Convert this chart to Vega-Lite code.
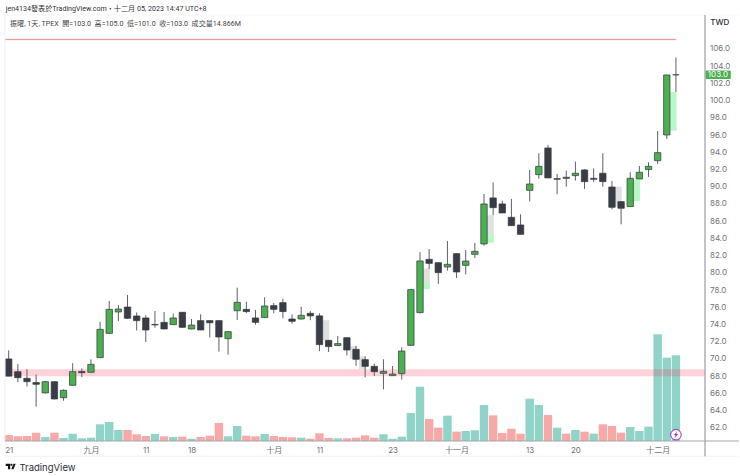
{
  "$schema": "https://vega.github.io/schema/vega-lite/v6.json",
  "width": 700,
  "height": 409,
  "autosize": "none",
  "padding": {"left": 5, "top": 32, "right": 35, "bottom": 35},
  "background": "white",
  "view": {"stroke": null},
  "config": {"font": "Inter, Noto Sans CJK TC, sans-serif"},
  "datasets": {
    "bars": [
      {"i":0,"open":70,"high":71,"low":68,"close":68,"vol":1.04,"dir":"down","volDir":"volDown"},
      {"i":1,"open":68.52,"high":69.4,"low":67.3,"close":67.83,"vol":0.81,"dir":"down","volDir":"volDown"},
      {"i":2,"open":67.75,"high":68.8,"low":66.8,"close":67.36,"vol":0.87,"dir":"down","volDir":"volDown"},
      {"i":3,"open":67.25,"high":68.2,"low":64.46,"close":67.05,"vol":1.45,"dir":"down","volDir":"volDown"},
      {"i":4,"open":66.05,"high":67.45,"low":66,"close":67.36,"vol":0.69,"dir":"up","volDir":"volUp"},
      {"i":5,"open":67.36,"high":67.4,"low":65.3,"close":65.35,"vol":1.45,"dir":"down","volDir":"volDown"},
      {"i":6,"open":65.5,"high":66.45,"low":65.15,"close":66.36,"vol":0.52,"dir":"up","volDir":"volUp"},
      {"i":7,"open":66.94,"high":69.5,"low":66.9,"close":68.52,"vol":1.27,"dir":"up","volDir":"volUp"},
      {"i":8,"open":68.55,"high":68.9,"low":67.9,"close":68.4,"vol":0.46,"dir":"down","volDir":"volUp"},
      {"i":9,"open":68.45,"high":69.95,"low":68.4,"close":69.37,"vol":0.58,"dir":"up","volDir":"volUp"},
      {"i":10,"open":70.15,"high":74.3,"low":70.1,"close":73.44,"vol":2.89,"dir":"up","volDir":"volUp"},
      {"i":11,"open":72.97,"high":76.73,"low":72.9,"close":75.76,"vol":3.29,"dir":"up","volDir":"volUp"},
      {"i":12,"open":75.45,"high":76.27,"low":74.4,"close":75.8,"vol":1.91,"dir":"up","volDir":"volUp"},
      {"i":13,"open":76.03,"high":77.43,"low":74.64,"close":74.72,"vol":1.91,"dir":"down","volDir":"volDown"},
      {"i":14,"open":74.99,"high":75.4,"low":73.3,"close":74.45,"vol":1.16,"dir":"down","volDir":"volDown"},
      {"i":15,"open":74.76,"high":75.07,"low":71.97,"close":73.36,"vol":0.87,"dir":"down","volDir":"volDown"},
      {"i":16,"open":74,"high":75.57,"low":73.63,"close":73.95,"vol":1.21,"dir":"flat","volDir":"volUp"},
      {"i":17,"open":74.25,"high":75.45,"low":73.45,"close":73.48,"vol":0.81,"dir":"down","volDir":"volDown"},
      {"i":18,"open":73.98,"high":75.26,"low":73.95,"close":74.76,"vol":0.69,"dir":"up","volDir":"volUp"},
      {"i":19,"open":75.42,"high":75.45,"low":73.6,"close":73.67,"vol":0.75,"dir":"down","volDir":"volDown"},
      {"i":20,"open":73.48,"high":74.64,"low":73.45,"close":73.94,"vol":0.4,"dir":"up","volDir":"volUp"},
      {"i":21,"open":74.45,"high":75.18,"low":73.35,"close":73.36,"vol":0.69,"dir":"down","volDir":"volDown"},
      {"i":22,"open":74.45,"high":74.5,"low":72.5,"close":74.2,"vol":0.92,"dir":"down","volDir":"volDown"},
      {"i":23,"open":74.45,"high":74.5,"low":70.85,"close":72.55,"vol":3.12,"dir":"down","volDir":"volDown"},
      {"i":24,"open":72.36,"high":73.25,"low":70.5,"close":73.17,"vol":0.81,"dir":"up","volDir":"volUp"},
      {"i":25,"open":75.6,"high":78.28,"low":74.53,"close":76.58,"vol":2.6,"dir":"up","volDir":"volUp"},
      {"i":26,"open":75.76,"high":76.65,"low":75.3,"close":75.5,"vol":0.92,"dir":"down","volDir":"volDown"},
      {"i":27,"open":74.76,"high":75.7,"low":73.98,"close":74.25,"vol":0.81,"dir":"down","volDir":"volDown"},
      {"i":28,"open":74.8,"high":77.16,"low":74.75,"close":76.15,"vol":1.21,"dir":"up","volDir":"volUp"},
      {"i":29,"open":76.19,"high":76.5,"low":75.3,"close":75.76,"vol":0.87,"dir":"down","volDir":"volDown"},
      {"i":30,"open":76.54,"high":77,"low":74.72,"close":75.5,"vol":0.69,"dir":"down","volDir":"volDown"},
      {"i":31,"open":74.64,"high":75.18,"low":74.1,"close":74.37,"vol":0.64,"dir":"down","volDir":"volDown"},
      {"i":32,"open":74.64,"high":76.07,"low":74.56,"close":75.07,"vol":0.58,"dir":"up","volDir":"volUp"},
      {"i":33,"open":75.3,"high":75.57,"low":74.5,"close":75,"vol":0.4,"dir":"down","volDir":"volDown"},
      {"i":34,"open":75,"high":75.3,"low":70.9,"close":71.66,"vol":1.33,"dir":"down","volDir":"volDown"},
      {"i":35,"open":72.16,"high":72.2,"low":70.8,"close":71.43,"vol":0.52,"dir":"down","volDir":"volDown"},
      {"i":36,"open":71.55,"high":72.67,"low":71.5,"close":71.78,"vol":0.46,"dir":"up","volDir":"volUp"},
      {"i":37,"open":72.47,"high":72.5,"low":70.4,"close":71.04,"vol":0.46,"dir":"down","volDir":"volDown"},
      {"i":38,"open":71.12,"high":71.5,"low":69.2,"close":69.96,"vol":0.58,"dir":"down","volDir":"volDown"},
      {"i":39,"open":69.92,"high":70.3,"low":67.87,"close":69.14,"vol":0.98,"dir":"down","volDir":"volDown"},
      {"i":40,"open":69.14,"high":69.45,"low":68.02,"close":68.52,"vol":0.58,"dir":"down","volDir":"volDown"},
      {"i":41,"open":68.33,"high":69.96,"low":66.47,"close":68.56,"vol":1.16,"dir":"up","volDir":"volUp"},
      {"i":42,"open":68.06,"high":69.18,"low":68.05,"close":68.25,"vol":0.4,"dir":"up","volDir":"volUp"},
      {"i":43,"open":68.29,"high":71.35,"low":67.6,"close":70.92,"vol":0.75,"dir":"up","volDir":"volUp"},
      {"i":44,"open":71.58,"high":78.15,"low":71.5,"close":78.05,"vol":4.86,"dir":"up","volDir":"volUp"},
      {"i":45,"open":75.38,"high":82.4,"low":75.3,"close":81.38,"vol":9.42,"dir":"up","volDir":"volUp"},
      {"i":46,"open":81.57,"high":82.77,"low":80.45,"close":81.1,"vol":3.81,"dir":"down","volDir":"volDown"},
      {"i":47,"open":81.18,"high":81.2,"low":78.7,"close":80.02,"vol":2.31,"dir":"down","volDir":"volDown"},
      {"i":48,"open":80.68,"high":83.7,"low":80.25,"close":80.99,"vol":4.39,"dir":"up","volDir":"volUp"},
      {"i":49,"open":82.23,"high":82.27,"low":79.4,"close":80.1,"vol":1.62,"dir":"down","volDir":"volDown"},
      {"i":50,"open":80.87,"high":82.65,"low":79.83,"close":81.37,"vol":1.73,"dir":"up","volDir":"volUp"},
      {"i":51,"open":82.15,"high":83.47,"low":81.72,"close":82.5,"vol":1.85,"dir":"up","volDir":"volUp"},
      {"i":52,"open":83.35,"high":89.16,"low":83.15,"close":88,"vol":6.24,"dir":"up","volDir":"volUp"},
      {"i":53,"open":88.7,"high":90.5,"low":86.72,"close":87.57,"vol":4.45,"dir":"down","volDir":"volDown"},
      {"i":54,"open":88,"high":88.38,"low":86.95,"close":86.95,"vol":1.39,"dir":"down","volDir":"volDown"},
      {"i":55,"open":86.45,"high":88.58,"low":85.45,"close":85.48,"vol":2.14,"dir":"down","volDir":"volDown"},
      {"i":56,"open":85.56,"high":86.8,"low":84.45,"close":84.47,"vol":1.27,"dir":"down","volDir":"volDown"},
      {"i":57,"open":89.58,"high":91.95,"low":88.3,"close":90.32,"vol":7.34,"dir":"up","volDir":"volUp"},
      {"i":58,"open":91.4,"high":93.88,"low":90.94,"close":92.37,"vol":6.24,"dir":"up","volDir":"volUp"},
      {"i":59,"open":94.5,"high":94.85,"low":91,"close":91.02,"vol":4.51,"dir":"down","volDir":"volDown"},
      {"i":60,"open":90.94,"high":91.48,"low":89.12,"close":90.86,"vol":2.31,"dir":"flat","volDir":"volUp"},
      {"i":61,"open":91.1,"high":91.87,"low":90,"close":90.97,"vol":1.27,"dir":"flat","volDir":"volDown"},
      {"i":62,"open":91.29,"high":92.92,"low":90.71,"close":91.56,"vol":1.91,"dir":"up","volDir":"volUp"},
      {"i":63,"open":91.95,"high":92.03,"low":89.74,"close":90.59,"vol":1.62,"dir":"down","volDir":"volDown"},
      {"i":64,"open":90.98,"high":92.14,"low":90.52,"close":90.86,"vol":1.27,"dir":"flat","volDir":"volUp"},
      {"i":65,"open":91.56,"high":93.88,"low":90.01,"close":90.59,"vol":2.89,"dir":"down","volDir":"volDown"},
      {"i":66,"open":89.97,"high":90.67,"low":87.38,"close":87.61,"vol":2.6,"dir":"down","volDir":"volDown"},
      {"i":67,"open":88.27,"high":88.3,"low":85.64,"close":87.5,"vol":1.45,"dir":"down","volDir":"volDown"},
      {"i":68,"open":87.69,"high":91.68,"low":87.65,"close":90.98,"vol":2.43,"dir":"up","volDir":"volUp"},
      {"i":69,"open":90.9,"high":92.41,"low":90.9,"close":91.68,"vol":1.73,"dir":"up","volDir":"volUp"},
      {"i":70,"open":91.99,"high":92.84,"low":91.14,"close":92.37,"vol":2.49,"dir":"up","volDir":"volUp"},
      {"i":71,"open":93.03,"high":96.48,"low":92.65,"close":93.96,"vol":18.5,"dir":"up","volDir":"volUp"},
      {"i":72,"open":96.01,"high":103,"low":95.55,"close":102.98,"vol":14.45,"dir":"up","volDir":"volUp"},
      {"i":73,"open":103,"high":105,"low":101,"close":103,"vol":14.866,"dir":"flat","volDir":"volUp"}
    ],
    "ghosts": [
      {"i":34.7,"top":74.5,"bottom":72.2,"kind":"ghostDown"},
      {"i":37.7,"top":71.5,"bottom":70,"kind":"ghostDown"},
      {"i":38.7,"top":70.3,"bottom":68.8,"kind":"ghostDown"},
      {"i":45.7,"top":80.5,"bottom":78.8,"kind":"ghostDown"},
      {"i":45.7,"top":78.8,"bottom":78.1,"kind":"ghostUp"},
      {"i":52.7,"top":86.7,"bottom":84.5,"kind":"ghostDown"},
      {"i":52.7,"top":84.5,"bottom":83.5,"kind":"ghostUp"},
      {"i":66.7,"top":90,"bottom":87.7,"kind":"ghostDown"},
      {"i":68.7,"top":90.8,"bottom":88.35,"kind":"ghostUp"},
      {"i":72.7,"top":101,"bottom":96.5,"kind":"ghostUp"}
    ],
    "one": [{"note": "annotation"}]
  },
  "data": {"name": "bars"},
  "layer": [
    {
      "mark": {"type": "bar", "size": 8.4},
      "encoding": {
        "x": {
          "field": "i",
          "type": "quantitative",
          "scale": {"domain": [-0.405, 76.18], "nice": false, "zero": false, "padding": 0},
          "axis": {
            "values": [0, 9, 15, 20, 29, 34, 42, 49, 57, 62, 71],
            "labelExpr": "{'0':'21','9':'九月','15':'11','20':'18','29':'十月','34':'11','42':'23','49':'十一月','57':'13','62':'20','71':'十二月'}[datum.value]",
            "grid": false,
            "ticks": false,
            "domain": false,
            "tickCount": 30,
            "labelFontSize": 8,
            "labelColor": "#6f7278",
            "labelPadding": 5,
            "labelFlush": false,
            "labelOverlap": false,
            "title": "TradingView",
            "titleX": 14,
            "titleY": 26,
            "titleAlign": "left",
            "titleBaseline": "middle",
            "titleFontSize": 9.5,
            "titleFontWeight": "normal",
            "titleColor": "#2a2e39"
          }
        },
        "y": {
          "field": "vol",
          "type": "quantitative",
          "scale": {"domain": [0, 70.95], "nice": false},
          "axis": null
        },
        "color": {
          "field": "volDir",
          "scale": {
            "domain": ["up", "down", "flat", "ghostUp", "ghostDown", "volUp", "volDown"],
            "range": ["#4caf50", "#3a3d47", "#5d606b", "#b9f6ca", "#dfe0e1", "#8fd3c9", "#f7a9a7"]
          },
          "legend": null
        }
      }
    },
    {
      "layer": [
        {
          "data": {"name": "one"},
          "mark": {"type": "rect", "color": "#ff3358", "opacity": 0.22},
          "encoding": {
            "x": {"datum": -0.405, "type": "quantitative"},
            "x2": {"datum": 76.18},
            "y": {
              "datum": 68.8,
              "type": "quantitative",
              "scale": {"domain": [60.47, 107.97], "nice": false, "zero": false},
              "axis": {
                "orient": "right",
                "values": [62, 64, 66, 68, 70, 72, 74, 76, 78, 80, 82, 84, 86, 88, 90, 92, 94, 96, 98, 100, 102, 104, 106],
                "tickCount": 30,
                "format": ".1f",
                "grid": false,
                "ticks": false,
                "domain": false,
                "labelFontSize": 8,
                "labelColor": "#6f7278",
                "labelPadding": 4.5,
                "labelOverlap": false,
                "title": null
              }
            },
            "y2": {"datum": 68}
          }
        },
        {
          "data": {"name": "one"},
          "mark": {"type": "rect", "fill": "#f29a9a", "stroke": "#f29a9a", "strokeWidth": 0.2, "opacity": 1},
          "encoding": {
            "x": {"datum": -0.405, "type": "quantitative"},
            "x2": {"datum": 73},
            "y": {"datum": 107.17, "type": "quantitative"},
            "y2": {"datum": 107.03}
          }
        },
        {
          "data": {"name": "ghosts"},
          "mark": {"type": "bar", "size": 6.8},
          "encoding": {
            "x": {"field": "i", "type": "quantitative"},
            "y": {"field": "top", "type": "quantitative"},
            "y2": {"field": "bottom"},
            "color": {"field": "kind", "legend": null}
          }
        },
        {
          "mark": {"type": "rule", "stroke": "#5d606b", "strokeWidth": 1},
          "encoding": {
            "x": {"field": "i", "type": "quantitative"},
            "y": {"field": "low", "type": "quantitative"},
            "y2": {"field": "high"}
          }
        },
        {
          "mark": {"type": "bar", "size": 6.4, "stroke": "#343a3a", "strokeWidth": 0.7},
          "encoding": {
            "x": {"field": "i", "type": "quantitative"},
            "y": {"field": "open", "type": "quantitative"},
            "y2": {"field": "close"},
            "color": {"field": "dir", "legend": null}
          }
        },
        {
          "data": {"name": "one"},
          "mark": {"type": "rule", "stroke": "#f0f0f0", "strokeWidth": 1},
          "encoding": {
            "x": {"datum": -0.405, "type": "quantitative"},
            "y": {"datum": 109.95, "type": "quantitative"},
            "y2": {"datum": 58.7}
          }
        },
        {
          "data": {"name": "one"},
          "mark": {"type": "rule", "stroke": "#f0f0f0", "strokeWidth": 1},
          "encoding": {
            "x": {"datum": -0.405, "type": "quantitative"},
            "x2": {"datum": 79.85},
            "y": {"datum": 58.7, "type": "quantitative"}
          }
        },
        {
          "data": {"name": "one"},
          "mark": {"type": "rule", "stroke": "#f4f4f4", "strokeWidth": 1},
          "encoding": {
            "x": {"datum": -0.405, "type": "quantitative"},
            "x2": {"datum": 79.85},
            "y": {"datum": 109.95, "type": "quantitative"}
          }
        },
        {
          "data": {"name": "one"},
          "mark": {"type": "rule", "stroke": "#a3a5a8", "strokeWidth": 1.3},
          "encoding": {
            "x": {"datum": 76.18, "type": "quantitative"},
            "y": {"datum": 109.95, "type": "quantitative"},
            "y2": {"datum": 58.7}
          }
        },
        {
          "data": {"name": "one"},
          "mark": {"type": "rule", "stroke": "#a3a5a8", "strokeWidth": 1},
          "encoding": {
            "x": {"datum": -0.405, "type": "quantitative"},
            "x2": {"datum": 79.85},
            "y": {"datum": 60.47, "type": "quantitative"}
          }
        },
        {
          "data": {"name": "one"},
          "mark": {"type": "text", "text": "TWD", "fontSize": 8, "fontWeight": 500, "color": "#2a2e39"},
          "encoding": {
            "x": {"datum": 77.8, "type": "quantitative"},
            "y": {"datum": 109, "type": "quantitative"}
          }
        },
        {
          "data": {"name": "one"},
          "mark": {"type": "rect", "color": "#4caf50", "cornerRadius": 1},
          "encoding": {
            "x": {"datum": 76.25, "type": "quantitative"},
            "x2": {"datum": 79},
            "y": {"datum": 103.5, "type": "quantitative"},
            "y2": {"datum": 102.5}
          }
        },
        {
          "data": {"name": "one"},
          "mark": {"type": "text", "text": "103.0", "fontSize": 8, "color": "white"},
          "encoding": {
            "x": {"datum": 77.6, "type": "quantitative"},
            "y": {"datum": 103, "type": "quantitative"}
          }
        },
        {
          "data": {"name": "one"},
          "mark": {"type": "point", "filled": true, "fill": "white", "stroke": "#9c27b0", "strokeWidth": 1, "opacity": 1, "size": 110, "shape": "circle"},
          "encoding": {
            "x": {"datum": 73, "type": "quantitative"},
            "y": {"datum": 61.2, "type": "quantitative"}
          }
        },
        {
          "data": {"name": "one"},
          "mark": {"type": "point", "filled": true, "fill": "#9c27b0", "strokeWidth": 0, "opacity": 1, "size": 50, "shape": "M0.35,-1 L-0.6,0.15 H-0.05 L-0.35,1 L0.6,-0.2 H0.05 Z"},
          "encoding": {
            "x": {"datum": 73, "type": "quantitative"},
            "y": {"datum": 61.2, "type": "quantitative"}
          }
        },
        {
          "data": {"name": "one"},
          "mark": {"type": "point", "filled": true, "fill": "#131722", "strokeWidth": 0, "opacity": 1, "size": 100, "shape": "M-1,-0.55 H-0.1 V0.55 H-0.55 V-0.1 H-1 Z M0.15,-0.55 A0.2,0.2 0 1 1 0.15,-0.15 A0.2,0.2 0 1 1 0.15,-0.55 Z M0.55,-0.55 H1 L0.55,0.55 H0.1 Z"},
          "encoding": {
            "x": {"datum": 0.22, "type": "quantitative"},
            "y": {"datum": 57.5, "type": "quantitative"}
          }
        },
        {
          "data": {"name": "one"},
          "mark": {"type": "text", "text": "jen4134發表於TradingView.com・十二月 05, 2023 14:47 UTC+8", "align": "left", "font": "Roboto, Noto Sans CJK TC, sans-serif", "fontSize": 7.1, "color": "#333333"},
          "encoding": {
            "x": {"datum": -0.33, "type": "quantitative"},
            "y": {"datum": 110.65, "type": "quantitative"}
          }
        },
        {
          "data": {"name": "one"},
          "mark": {"type": "text", "text": "振曜, 1天, TPEX\u00a0\u00a0開=103.0\u00a0\u00a0高=105.0\u00a0\u00a0低=101.0\u00a0\u00a0收=103.0\u00a0\u00a0成交量14.866M", "align": "left", "font": "Roboto, Noto Sans CJK TC, sans-serif", "fontSize": 7.1, "color": "#444444"},
          "encoding": {
            "x": {"datum": 0.14, "type": "quantitative"},
            "y": {"datum": 108.9, "type": "quantitative"}
          }
        }
      ]
    }
  ],
  "resolve": {"scale": {"y": "independent"}}
}
